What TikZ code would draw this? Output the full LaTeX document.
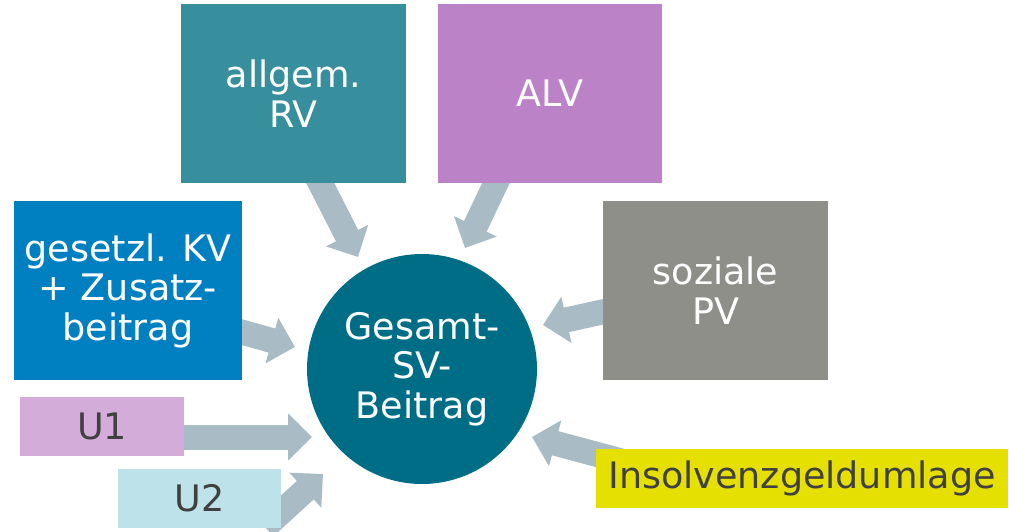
\documentclass[tikz,border=0pt]{standalone}
\usepackage{fontspec}
\setmainfont{DejaVu Sans}
\usetikzlibrary{arrows.meta,backgrounds}
\definecolor{cRV}{HTML}{378E9D}
\definecolor{cALV}{HTML}{BC82C8}
\definecolor{cKV}{HTML}{0080C1}
\definecolor{cPV}{HTML}{8F8F8A}
\definecolor{cUone}{HTML}{D3ACD9}
\definecolor{cUtwo}{HTML}{BEE2EA}
\definecolor{cIns}{HTML}{E6E000}
\definecolor{cCirc}{HTML}{006D87}
\definecolor{cArr}{HTML}{A9BCC5}
\definecolor{cDark}{HTML}{404040}
\begin{document}
\begin{tikzpicture}[x=1pt,y=-1pt,
  box/.style={rectangle,inner sep=0pt,align=center,font=\fontsize{36.5}{39.5}\selectfont},
  wtext/.style={text=white},
  dtext/.style={text=cDark},
  feed/.style={draw=cArr,line width=25pt,-{Triangle[length=24pt,width=46pt]}}]
\useasboundingbox (0,0) rectangle (1009,532);
\node[box,wtext,fill=cRV,minimum width=225pt,minimum height=179pt] (rv) at (293.5,93.5) {allgem.\\RV};
\node[box,wtext,fill=cALV,minimum width=224pt,minimum height=179pt] (alv) at (550,93.5) {ALV};
\node[box,wtext,fill=cKV,minimum width=228pt,minimum height=179pt] (kv) at (128,290.5) {gesetzl. KV\\+ Zusatz-\\beitrag};
\node[box,wtext,fill=cPV,minimum width=225pt,minimum height=179pt] (pv) at (715.5,290.5) {soziale\\PV};
\node[box,dtext,fill=cUone,minimum width=164pt,minimum height=59pt] (u1) at (102,426.5) {U1};
\node[box,dtext,fill=cUtwo,minimum width=163pt,minimum height=59pt] (u2) at (199.5,498.5) {U2};
\node[box,dtext,fill=cIns,minimum width=412pt,minimum height=59pt] (ins) at (802,478.5) {Insolvenzgeldumlage};
\node[box,wtext,circle,fill=cCirc,minimum size=230pt] (sv) at (422,369) {Gesamt-\\SV-\\Beitrag};
\coordinate (rvS) at (309,161);  \coordinate (rvT) at (358,257);
\coordinate (alvS) at (506,162); \coordinate (alvT) at (465,248);
\coordinate (kvS) at (220,326);  \coordinate (kvT) at (295,347);
\coordinate (uoS) at (170,437);  \coordinate (uoT) at (312,437);
\coordinate (utS) at (265,527);  \coordinate (utT) at (323,474);
\coordinate (pvS) at (625,307);  \coordinate (pvT) at (543,325);
\coordinate (insS) at (640,466); \coordinate (insT) at (532,437);
\begin{scope}[on background layer]
\draw[feed] (rvS) -- (rvT);
\draw[feed] (alvS) -- (alvT);
\draw[feed] (kvS) -- (kvT);
\draw[feed] (uoS) -- (uoT);
\draw[feed] (utS) -- (utT);
\draw[feed] (pvS) -- (pvT);
\draw[feed] (insS) -- (insT);
\end{scope}
\end{tikzpicture}
\end{document}
